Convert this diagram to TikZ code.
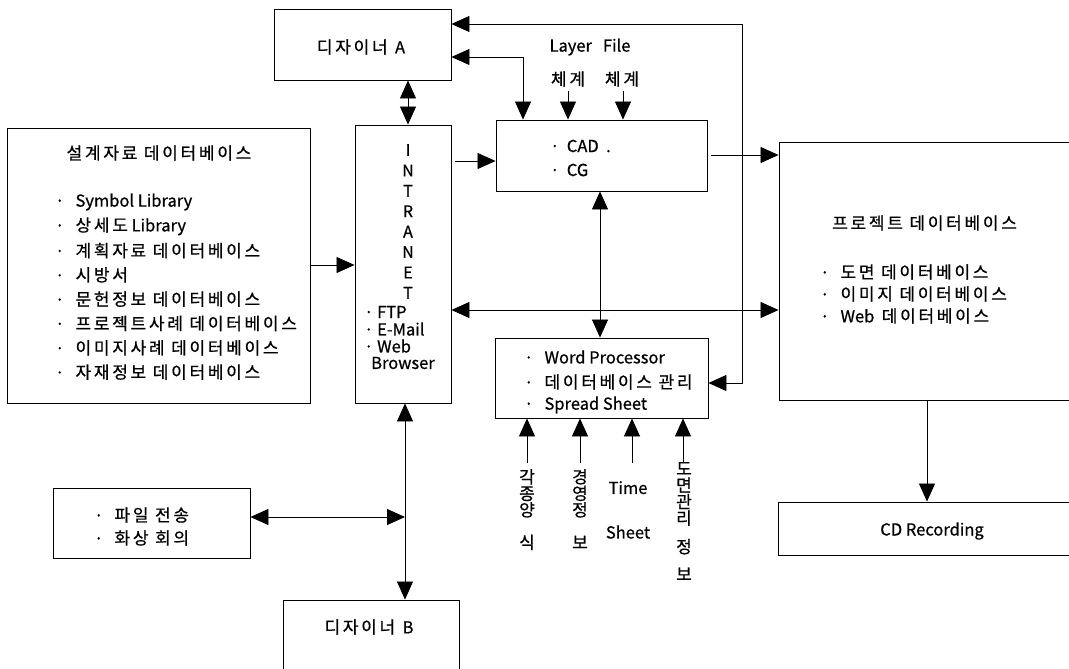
\documentclass[tikz,border=0pt]{standalone}
\usepackage{fontspec}
\setmainfont{Noto Sans CJK KR}[FakeBold=0.7]
\newfontfamily\krf{Noto Sans CJK KR}[FakeBold=0.7, LetterSpace=16]
\newcommand{\ko}[1]{{\krf\fontsize{17}{18}\selectfont #1}}
\usetikzlibrary{arrows.meta}
\tikzset{
  box/.style={draw, line width=0.9pt, inner sep=0pt, rectangle},
  arr/.style={line width=0.8pt, -{Triangle[length=18pt,width=16pt]}},
  darr/.style={line width=0.8pt, {Triangle[length=18pt,width=16pt]}-{Triangle[length=18pt,width=16pt]}},
  txt/.style={inner sep=0pt, anchor=west, font=\fontsize{16.5}{18}\selectfont},
  ctxt/.style={inner sep=0pt, font=\fontsize{16.5}{18}\selectfont},
  vlab/.style={inner sep=0pt, anchor=north, align=center, font=\fontsize{16.5}{16.5}\selectfont},
}
\begin{document}
\begin{tikzpicture}[x=1pt,y=-1pt]
\useasboundingbox (0,0) rectangle (1069,669);
\clip (0,0) rectangle (1069,669);
\fill[white] (0,0) rectangle (1069,669);

% boxes
\node[box, minimum width=177pt, minimum height=71pt] (A) at (362.5,44.5) {};
\node[ctxt] (Alab) at (361,47) {\ko{디자이너}\ \ A};
\node[box, minimum width=211pt, minimum height=71pt] (CAD) at (601.5,155.5) {};
\node[box, minimum width=96pt, minimum height=278pt] (intr) at (403,264) {};
\node[box, minimum width=303pt, minimum height=275pt] (ldb) at (158.5,265.5) {};
\node[box, minimum width=311pt, minimum height=258pt] (rdb) at (934.5,271) {};
\node[box, minimum width=213pt, minimum height=80pt] (WP) at (601.5,378) {};
\node[box, minimum width=312pt, minimum height=53pt] (cd) at (934,528.5) {};
\node[box, minimum width=197pt, minimum height=70pt] (file) at (151.5,523) {};
\node[box, minimum width=176pt, minimum height=100pt] (B) at (371,650) {};
\node[ctxt] (Blab) at (369,627) {\ko{디자이너}\ \ B};

% texts: CAD box
\node[txt] (cad1) at (550,146) {·\ \ CAD\ \ .};
\node[txt] (cad2) at (550,170) {·\ \ CG};
% Layer file
\node[ctxt] (lay) at (590,47) {Layer\ \ \ File};
\node[ctxt] (ch1) at (568,79) {\ko{체계}};
\node[ctxt] (ch2) at (622,79) {\ko{체계}};

% intranet
\node[inner sep=0pt, anchor=north, align=center, font=\fontsize{16}{20.4}\selectfont] (intrlab) at (408,144) {I\\N\\T\\R\\A\\N\\E\\T};
\node[txt] (i1) at (364,312) {· FTP};
\node[txt] (i2) at (364,329) {· E-Mail};
\node[txt] (i3) at (364,346) {· Web};
\node[txt] (i4) at (371,363) {Browser};

% left DB
\node[ctxt] (ldbt) at (159,153) {\ko{설계자료 데이터베이스}};
\foreach \t [count=\i] in {Symbol Library, \ko{상세도} Library, \ko{계획자료 데이터베이스}, \ko{시방서}, \ko{문헌정보 데이터베이스}, \ko{프로젝트사례 데이터베이스}, \ko{이미지사례 데이터베이스}, \ko{자재정보 데이터베이스}}
  \node[txt] (ld\i) at (55,{202+(\i-1)*24.3}) {·\ \ \ \t};

% right DB
\node[txt] (rdbt) at (832,223) {\ko{프로젝트 데이터베이스}};
\node[txt] (r1) at (820,272) {·\ \ \ \ko{도면 데이터베이스}};
\node[txt] (r2) at (820,294) {·\ \ \ \ko{이미지 데이터베이스}};
\node[txt] (r3) at (820,316) {·\ \ \ Web\ \ \ko{데이터베이스}};

% WP box
\node[txt] (w1) at (524,357) {·\ \ \ Word Processor};
\node[txt] (w2) at (524,382) {·\ \ \ \ko{데이터베이스 관리}};
\node[txt] (w3) at (524,405) {·\ \ \ Spread Sheet};

% CD
\node[ctxt] (cdlab) at (932,531) {CD Recording};

% file box
\node[txt] (f1) at (94,515) {·\ \ \ \ko{파일 전송}};
\node[txt] (f2) at (94,538) {·\ \ \ \ko{화상 회의}};

% bottom labels
\node[vlab] (b1) at (527,469) {\ko{각}\\\ko{종}\\\ko{양}\\[16pt]\ko{식}};
\node[vlab] (b2) at (580,469) {\ko{경}\\\ko{영}\\\ko{정}\\[16pt]\ko{보}};
\node[vlab] (b3) at (628,481) {Time\\[28pt]Sheet};
\node[vlab] (b4) at (684,462) {\ko{도}\\\ko{면}\\\ko{관}\\\ko{리}\\[12pt]\ko{정}\\[11pt]\ko{보}};

% connectors
\draw[darr] (408,0 |- A.south) -- (408,0 |- intr.north);
\draw[darr] (A.east |- 0,57) -- (523,57) -- (523,0 |- CAD.north);
\draw[darr] (A.east |- 0,24) -- (742,24) -- (742,383) -- (WP.east |- 0,383);
\draw[arr] (568,0 |- ch1.south) ++(0,4) -- (568,0 |- CAD.north);
\draw[arr] (623,0 |- ch2.south) ++(0,4) -- (623,0 |- CAD.north);
\draw[arr] ([xshift=4pt]intr.east |- 0,161) -- (CAD.west |- 0,161);
\draw[arr] (ldb.east |- 0,265) -- (intr.west |- 0,265);
\draw[arr] ([xshift=4pt]CAD.east |- 0,155) -- (rdb.west |- 0,155);
\draw[darr] (intr.east |- 0,310) -- (rdb.west |- 0,310);
\draw[darr] (600,0 |- CAD.south) -- (600,0 |- WP.north);
\draw[arr] (927,0 |- rdb.south) -- (927,0 |- cd.north);
\draw[arr] (527,463) -- (527,0 |- WP.south);
\draw[arr] (580,463) -- (580,0 |- WP.south);
\draw[arr] (632,463) -- (632,0 |- WP.south);
\draw[arr] (683,463) -- (683,0 |- WP.south);
\draw[darr] (405,0 |- intr.south) -- (405,0 |- B.north);
\coordinate (j) at (405,517);
\draw[darr] (file.east |- j) -- (j);
\end{tikzpicture}
\end{document}
